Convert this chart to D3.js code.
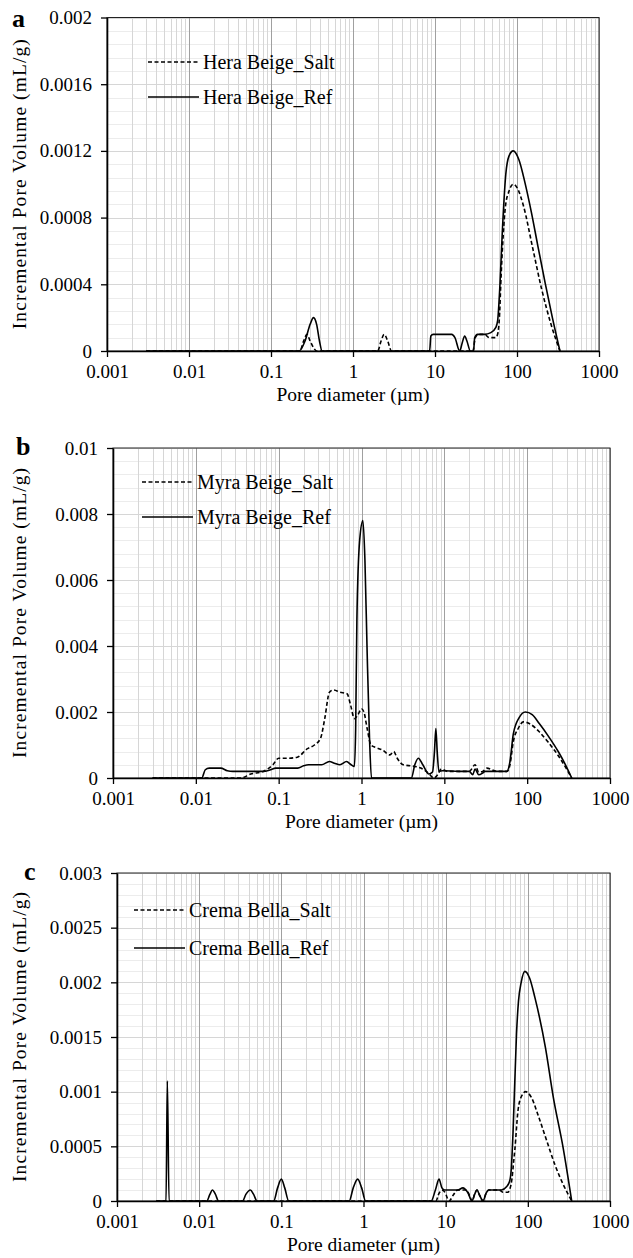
<!DOCTYPE html>
<html>
<head>
<meta charset="utf-8">
<script src="https://cdn.jsdelivr.net/npm/d3@7"></script>
<style>
  body { margin: 0; background: #fff; }
  svg text { font-family: "Liberation Serif", "Times New Roman", serif; fill: #000; }
</style>
</head>
<body>
<svg id="chart" width="633" height="1258"></svg>
<script>
const d3 = window.d3;
const SERIF = "'Liberation Serif', 'Times New Roman', serif";

// x axis (pore diameter, um), shared by all three panels
const xTicks = [0.001, 0.01, 0.1, 1, 10, 100, 1000];

// y ticks per panel
const yTicksA = [0, 0.0004, 0.0008, 0.0012, 0.0016, 0.002];
const yTicksB = [0, 0.002, 0.004, 0.006, 0.008, 0.01];
const yTicksC = [0, 0.0005, 0.001, 0.0015, 0.002, 0.0025, 0.003];

// series names
const namesA = ["Hera Beige_Salt", "Hera Beige_Ref"];
const namesB = ["Myra Beige_Salt", "Myra Beige_Ref"];
const namesC = ["Crema Bella_Salt", "Crema Bella_Ref"];

// [diameter, incremental pore volume]
const heraSalt = [
  [0.003, 0], [0.225, 0], [0.25, 0.00006], [0.275, 0.0001], [0.3, 0.00006], [0.33, 0.00002], [0.36, 0],
  [2.0, 0], [2.2, 0.00006], [2.4, 0.0001], [2.65, 0.00006], [2.95, 0],
  [29, 0], [31, 0.00008], [34, 0.0001], [40, 0.0001], [46, 0.00008], [55, 0.00008], [58, 0.0001],
  [61, 0.0002], [64, 0.00045], [68, 0.0007], [72, 0.00086], [80, 0.00096], [90, 0.001], [100, 0.00098],
  [120, 0.00087], [155, 0.00062], [200, 0.00037], [260, 0.00016], [334, 0]
];
const heraRef = [
  [0.003, 0], [0.22, 0], [0.26, 0.00006], [0.3, 0.00016], [0.33, 0.0002], [0.36, 0.00016], [0.39, 0.00006], [0.42, 0],
  [8.6, 0], [8.9, 0.00009], [9.5, 0.0001], [12, 0.0001], [16, 0.0001], [17.5, 0.00008], [20, 0],
  [21.5, 0.00005], [23, 0.00009], [24.5, 0.00006], [27, 0], [29.5, 0], [30.5, 0.00008], [33, 0.0001],
  [40, 0.0001], [48, 0.00011], [55, 0.00014], [58, 0.00018], [62, 0.0004], [66, 0.0007], [73, 0.00106],
  [80, 0.00117], [90, 0.0012], [105, 0.00115], [125, 0.00101], [150, 0.00083], [178, 0.00064],
  [220, 0.00041], [270, 0.0002], [334, 0]
];

const myraSalt = [
  [0.003, 0], [0.035, 0], [0.046, 0.00012], [0.065, 0.0002], [0.085, 0.0004], [0.1, 0.0006], [0.13, 0.0006],
  [0.168, 0.00063], [0.22, 0.00088], [0.27, 0.001], [0.32, 0.0012], [0.36, 0.0018], [0.41, 0.0026],
  [0.46, 0.00267], [0.55, 0.0026], [0.67, 0.00255], [0.74, 0.0022], [0.82, 0.0018], [0.9, 0.0019],
  [1.0, 0.0021], [1.07, 0.002], [1.17, 0.0015], [1.3, 0.001], [1.5, 0.00092], [1.78, 0.00085],
  [2.2, 0.0007], [2.45, 0.0008], [2.7, 0.0006], [3.2, 0.0004], [4.2, 0.00036], [5.2, 0.0003],
  [6.4, 0.00015], [7.5, 0], [8.3, 0.0001], [9.2, 0.00027], [11, 0.0002], [20, 0.0002], [23.5, 0.0004],
  [26, 0.00018], [29, 0.0002], [32.5, 0.0003], [43, 0.0002], [57, 0.0002], [62, 0.0004], [68, 0.0011],
  [78, 0.0015], [90, 0.0017], [110, 0.00163], [140, 0.0014], [180, 0.00108], [240, 0.00066],
  [290, 0.00033], [345, 0]
];
const myraRef = [
  [0.003, 0], [0.0118, 0], [0.013, 0.00025], [0.0145, 0.0003], [0.02, 0.0003], [0.024, 0.00022],
  [0.028, 0.0002], [0.065, 0.0002], [0.08, 0.00025], [0.092, 0.0003], [0.17, 0.0003], [0.2, 0.00037],
  [0.23, 0.0004], [0.33, 0.0004], [0.41, 0.0005], [0.47, 0.00045], [0.55, 0.0004], [0.66, 0.0005],
  [0.75, 0.0004], [0.82, 0.00035], [0.85, 0.0015], [0.88, 0.0048], [0.95, 0.0072], [1.04, 0.0078],
  [1.1, 0.0066], [1.17, 0.0038], [1.25, 0.0012], [1.32, 0],
  [4.0, 0], [4.4, 0.0004], [4.85, 0.0006], [5.5, 0.0004], [6.5, 0.00012], [7.2, 0.00018], [7.6, 0.0008],
  [7.9, 0.0015], [8.2, 0.0008], [8.6, 0.0002], [9.5, 0.00022], [15, 0.0002], [20, 0.0002], [22, 0.0001],
  [23.5, 0.00027], [26, 0.0001], [29, 0.00015], [31, 0.0002], [57, 0.0002], [62, 0.0005], [68, 0.00133],
  [80, 0.00183], [95, 0.002], [115, 0.00192], [140, 0.00165], [180, 0.00127], [240, 0.00078],
  [290, 0.0004], [345, 0]
];

const cremaSalt = [
  [0.003, 0], [7.6, 0], [8.3, 0.00007], [9, 0.0001], [9.8, 0.00008], [11, 0], [12.5, 0.00006], [14, 0.0001],
  [18, 0.0001], [19.5, 0.00005], [21, 0], [22.5, 0.00006], [24, 0.0001], [26, 0.00005], [28.5, 0],
  [31, 0.00007], [33.5, 0.0001], [45, 0.0001], [50, 0.00008], [57, 0.00008], [61, 0.00012], [64, 0.0002],
  [67, 0.00035], [69.5, 0.00047], [76, 0.00083], [84, 0.00096], [94, 0.001], [110, 0.00095],
  [134, 0.00078], [170, 0.00055], [214, 0.00033], [270, 0.00015], [342, 0]
];
const cremaRef = [
  [0.003, 0], [0.00395, 0], [0.0041, 0.0011], [0.0043, 0],
  [0.0124, 0], [0.0135, 0.00006], [0.0145, 0.0001], [0.0158, 0.00006], [0.0172, 0],
  [0.0337, 0], [0.037, 0.00006], [0.042, 0.0001], [0.046, 0.00006], [0.0506, 0],
  [0.0807, 0], [0.09, 0.00012], [0.1, 0.0002], [0.11, 0.00012], [0.123, 0],
  [0.67, 0], [0.75, 0.00012], [0.85, 0.0002], [0.95, 0.00012], [1.06, 0],
  [6.65, 0], [7.5, 0.0001], [8.3, 0.0002], [9, 0.00012], [9.7, 0.0001], [14, 0.0001], [16.2, 0.00012],
  [18.5, 0.00008], [20.9, 0], [22.5, 0.00006], [24, 0.0001], [26, 0.00005], [28.5, 0], [31, 0.00007],
  [33.4, 0.0001], [47.6, 0.0001], [55, 0.00013], [60, 0.00018], [63, 0.0003], [66, 0.00062],
  [72.8, 0.00153], [77, 0.00183], [83, 0.002], [92, 0.0021], [105, 0.00204], [122, 0.00186],
  [164, 0.0014], [204, 0.00095], [270, 0.00048], [342, 0]
];

const panels = [
  { letter: "a", box: [107, 17.5, 599, 351], letterPos: [12, 27], yTicks: yTicksA, minor: 0.00008,
    names: namesA, salt: heraSalt, ref: heraRef, legend: [148, 62, 97] },
  { letter: "b", box: [113, 448, 610, 778], letterPos: [16, 455], yTicks: yTicksB, minor: 0.0004,
    names: namesB, salt: myraSalt, ref: myraRef, legend: [142, 482, 517] },
  { letter: "c", box: [117, 873, 610, 1201], letterPos: [24, 880], yTicks: yTicksC, minor: 0.0001,
    names: namesC, salt: cremaSalt, ref: cremaRef, legend: [134, 910, 948] }
];

const svg = d3.select("#chart").style("font-family", SERIF);

function drawPanel(p) {
  const [left, top, right, bottom] = p.box;
  const yMax = p.yTicks[p.yTicks.length - 1];

  const x = d3.scaleLog().domain([xTicks[0], xTicks[xTicks.length - 1]]).range([left, right]);
  const y = d3.scaleLinear().domain([0, yMax]).range([bottom, top]);

  const g = svg.append("g");

  // minor horizontal grid
  const yMinor = d3.range(0, yMax + p.minor / 2, p.minor);
  g.append("g").selectAll("line").data(yMinor).join("line")
    .attr("x1", left).attr("x2", right)
    .attr("y1", (d) => Math.round(y(d)) + 0.5).attr("y2", (d) => Math.round(y(d)) + 0.5)
    .attr("stroke", "#ececec");

  // minor vertical grid (2..9 in every decade)
  const xMinor = [];
  xTicks.slice(0, -1).forEach((dec) => { for (let k = 2; k <= 9; k++) xMinor.push(dec * k); });
  g.append("g").selectAll("line").data(xMinor).join("line")
    .attr("x1", (d) => Math.round(x(d)) + 0.5).attr("x2", (d) => Math.round(x(d)) + 0.5)
    .attr("y1", top).attr("y2", bottom)
    .attr("stroke", "#d6d6d6");

  // major horizontal grid
  g.append("g").selectAll("line").data(p.yTicks).join("line")
    .attr("x1", left).attr("x2", right)
    .attr("y1", (d) => Math.round(y(d)) + 0.5).attr("y2", (d) => Math.round(y(d)) + 0.5)
    .attr("stroke", "#d6d6d6");

  // major vertical grid
  g.append("g").selectAll("line").data(xTicks).join("line")
    .attr("x1", (d) => Math.round(x(d)) + 0.5).attr("x2", (d) => Math.round(x(d)) + 0.5)
    .attr("y1", top).attr("y2", bottom)
    .attr("stroke", "#a0a0a0");

  // plot border
  g.append("rect")
    .attr("x", left).attr("y", top)
    .attr("width", right - left).attr("height", bottom - top)
    .attr("fill", "none").attr("stroke", "#222").attr("stroke-width", 1);

  const line = d3.line()
    .x((d) => x(d[0]))
    .y((d) => y(d[1]))
    .curve(d3.curveMonotoneX);

  g.append("path").datum(p.salt)
    .attr("fill", "none").attr("stroke", "#000").attr("stroke-width", 1.6)
    .attr("stroke-dasharray", "4,2.5")
    .attr("d", line);
  g.append("path").datum(p.ref)
    .attr("fill", "none").attr("stroke", "#000").attr("stroke-width", 1.6)
    .attr("d", line);

  // axes
  const yAxis = g.append("g")
    .attr("transform", `translate(${left},0)`)
    .call(d3.axisLeft(y).tickValues(p.yTicks).tickFormat((d) => String(d))
      .tickSize(6).tickSizeOuter(0).tickPadding(9));
  const xAxis = g.append("g")
    .attr("transform", `translate(0,${bottom})`)
    .call(d3.axisBottom(x).tickValues(xTicks).tickFormat((d) => String(d))
      .tickSize(6).tickSizeOuter(0).tickPadding(8));
  [yAxis, xAxis].forEach((a) => {
    a.attr("font-family", SERIF).attr("font-size", 19);
    a.selectAll("text").style("font-family", SERIF);
    a.select(".domain").attr("stroke-width", 1.6);
    a.selectAll(".tick line").attr("stroke-width", 1.3);
  });

  // axis titles
  g.append("text")
    .attr("x", (left + right) / 2).attr("y", bottom + 50)
    .attr("text-anchor", "middle").attr("font-size", 19.5)
    .style("font-family", SERIF)
    .text("Pore diameter (\u00b5m)");
  g.append("text")
    .attr("transform", `translate(19,${(top + bottom) / 2}) rotate(-90)`)
    .attr("text-anchor", "middle").attr("dy", "0.35em").attr("font-size", 19.5)
    .attr("textLength", 290).attr("lengthAdjust", "spacing")
    .style("font-family", SERIF)
    .text("Incremental Pore Volume (mL/g)");

  // panel letter
  g.append("text")
    .attr("x", p.letterPos[0]).attr("y", p.letterPos[1])
    .attr("font-size", 26).attr("font-weight", "bold")
    .style("font-family", SERIF)
    .text(p.letter);

  // legend
  const [lx, ly1, ly2] = p.legend;
  [[ly1, "4,2.5", p.names[0]], [ly2, null, p.names[1]]].forEach(([ly, dash, name]) => {
    g.append("line")
      .attr("x1", lx).attr("x2", lx + 51).attr("y1", ly).attr("y2", ly)
      .attr("stroke", "#000").attr("stroke-width", 1.6)
      .attr("stroke-dasharray", dash);
    g.append("text")
      .attr("x", lx + 55).attr("y", ly).attr("dy", "0.35em")
      .attr("font-size", 20)
      .style("font-family", SERIF)
      .text(name);
  });
}

panels.forEach(drawPanel);
</script>
</body>
</html>
